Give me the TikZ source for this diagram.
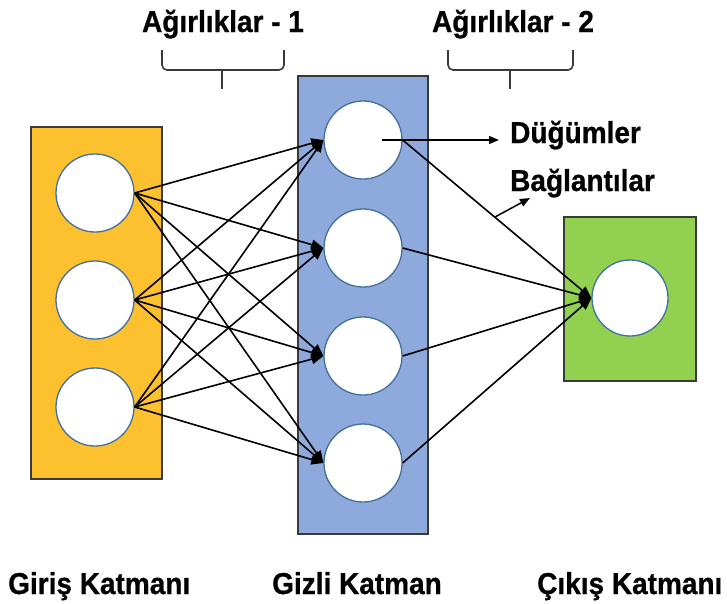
\documentclass[tikz,border=0pt]{standalone}
\usepackage{fontspec}
\setmainfont{Liberation Sans}
\newfontfamily\heavyfont[FakeBold=0.8]{Liberation Sans Bold}
\usetikzlibrary{arrows.meta}
\definecolor{layeryellow}{HTML}{FDC02F}
\definecolor{layerblue}{HTML}{8EA9DB}
\definecolor{layergreen}{HTML}{92D050}
\definecolor{ringblue}{HTML}{41719C}
\definecolor{frame}{HTML}{3A3A3A}
\begin{document}
\begin{tikzpicture}[x=1pt,y=-1pt,
  layerbox/.style={draw=frame,line width=1.6pt,inner sep=0pt,anchor=north west},
  neuron/.style={circle,draw=ringblue,line width=1.3pt,fill=white,minimum size=78pt,inner sep=0pt},
  conn/.style={line width=1.6pt,-{Triangle[length=12pt,width=10pt]}},
  brace/.style={draw=frame,line width=1.6pt,rounded corners=5pt},
  lbl/.style={font=\heavyfont\fontsize{28}{30}\selectfont,inner sep=0pt,yscale=1.08}]
\useasboundingbox (0,0) rectangle (727,603);
% layer boxes
\node[layerbox,fill=layeryellow,minimum width=131pt,minimum height=352pt] (inbox) at (30,126) {};
\node[layerbox,fill=layerblue,minimum width=130pt,minimum height=458pt] (hidbox) at (297,75) {};
\node[layerbox,fill=layergreen,minimum width=132pt,minimum height=164pt] (outbox) at (563,216) {};
% neurons
\node[neuron] (i1) at (95,193) {};
\node[neuron] (i2) at (95,300) {};
\node[neuron] (i3) at (95,407) {};
\node[neuron] (h1) at (363,140) {};
\node[neuron] (h2) at (363,248) {};
\node[neuron] (h3) at (363,356) {};
\node[neuron] (h4) at (363,463) {};
\node[neuron,minimum size=76pt] (o1) at (630,298) {};
% input -> hidden connections
\foreach \a in {1,2,3}
  \foreach \b in {1,2,3,4}
    \draw[conn] (i\a.east) -- (h\b.west);
% hidden -> output connections
\foreach \b in {1,2,3,4}
  \draw[conn] (h\b.east) -- (o1.west);
% braces over the weight groups
\draw[brace] (162,50) -- (162,70) -- (284,70) -- (284,50);
\draw[frame,line width=1.6pt] (222,70) -- (222,89);
\draw[brace] (448,50) -- (448,70) -- (573,70) -- (573,50);
\draw[frame,line width=1.6pt] (510,70) -- (510,89);
% titles
\node[lbl,anchor=base] (w1) at (223,32) {Ağırlıklar - 1};
\node[lbl,anchor=base] (w2) at (513,32) {Ağırlıklar - 2};
% annotations
\node[lbl,anchor=base west] (nodes) at (510,143) {Düğümler};
\node[lbl,anchor=base west] (links) at (510,191) {Bağlantılar};
\coordinate (nstart) at (382,140);
\coordinate (nend) at (499,140);
\draw[line width=1.5pt,-{Triangle[length=10pt,width=8pt]}] (nstart) -- (nend);
\coordinate (lstart) at (495,217);
\coordinate (lend) at (530,198);
\draw[line width=1.5pt,-{Triangle[length=10pt,width=8pt]}] (lstart) -- (lend);
% layer names
\node[lbl,anchor=base west] (inname) at (8,594) {Giriş Katmanı};
\node[lbl,anchor=base west] (hidname) at (272,594) {Gizli Katman};
\node[lbl,anchor=base west] (outname) at (537,594) {Çıkış Katmanı};
\end{tikzpicture}
\end{document}
